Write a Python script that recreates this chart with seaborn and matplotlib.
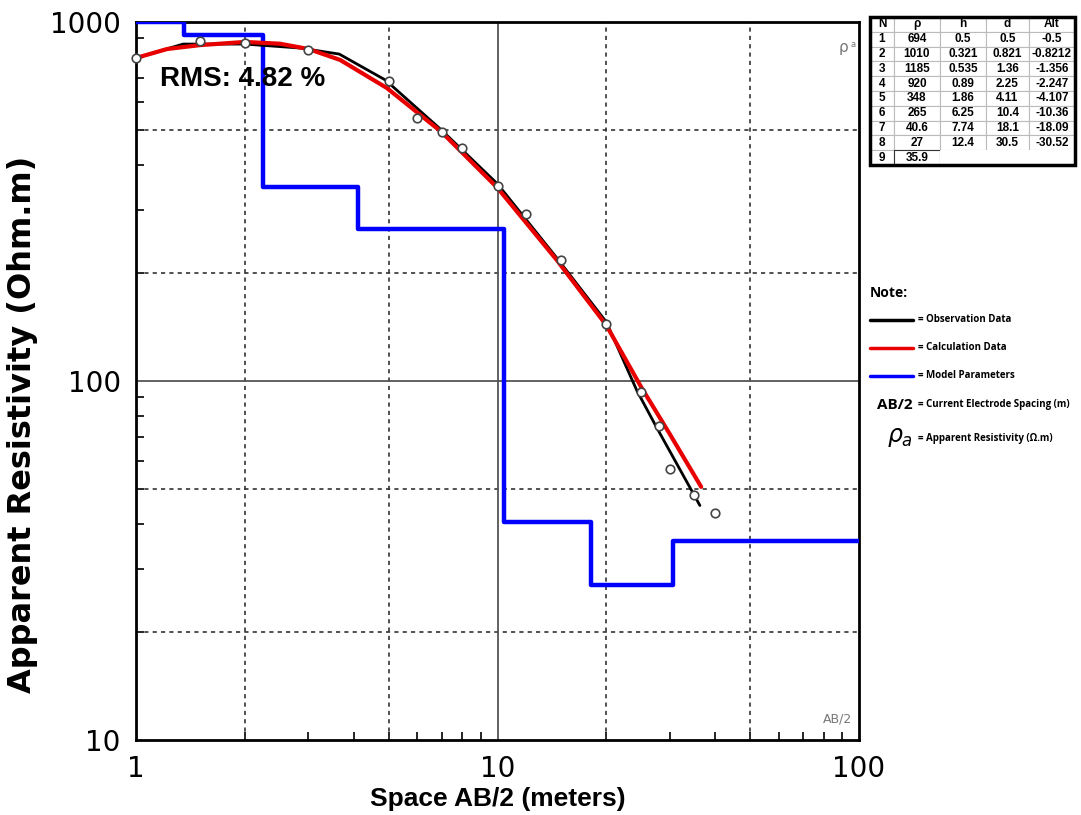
import numpy as np
import pandas as pd
import matplotlib
matplotlib.use("Agg")
import matplotlib.pyplot as plt
import seaborn as sns
from matplotlib.lines import Line2D
from matplotlib.patches import Rectangle
from matplotlib.ticker import FixedLocator, NullFormatter, FixedFormatter

# ---------------- data ----------------
obs_ab2 = [1, 1.5, 2, 3, 5, 6, 7, 8, 10, 12, 15, 20, 25, 28, 30, 35, 40]
obs_rho = [794, 885, 873, 836, 685, 541, 494, 446, 349, 292, 217, 144, 93, 75, 57, 48, 43]

obs_line_ab2 = [1, 1.35, 2, 2.85, 3.65, 4.9, 7, 10, 14.6, 20, 24.3, 27.4, 36.3]
obs_line_rho = [794, 868, 868, 846, 814, 689, 500, 354, 220, 146, 94, 75, 45]

calc_ab2 = [1, 1.22, 1.5, 2, 2.5, 3, 3.67, 4.94, 7, 10, 14.6, 20, 25, 30, 36.6]
calc_rho = [794, 841, 862, 880, 870, 841, 784, 655, 494, 345, 217, 143, 96, 71, 50.7]

layer_n = [1, 2, 3, 4, 5, 6, 7, 8, 9]
layer_rho = [694, 1010, 1185, 920, 348, 265, 40.6, 27, 35.9]
layer_h = [0.5, 0.321, 0.535, 0.89, 1.86, 6.25, 7.74, 12.4]
layer_d = [0.5, 0.821, 1.36, 2.25, 4.11, 10.4, 18.1, 30.5]
layer_alt = [-0.5, -0.8212, -1.356, -2.247, -4.107, -10.36, -18.09, -30.52]

x_ticks = [1, 10, 100]
x_ticklabels = ["1", "10", "100"]
y_ticks = [10, 100, 1000]
y_ticklabels = ["10", "100", "1000"]
rms_text = "RMS: 4.82 %"

# ---------------- figure ----------------
sns.set_theme(style="white")
plt.rcParams["font.family"] = ["DejaVu Sans"]
plt.rcParams["text.color"] = "black"
plt.rcParams["axes.labelcolor"] = "black"
plt.rcParams["xtick.color"] = "black"
plt.rcParams["ytick.color"] = "black"

W, H = 1081, 815
fig = plt.figure(figsize=(W / 100, H / 100), dpi=100)
L, R, T, B = 136, 859, 22, 740
ax = fig.add_axes([L / W, 1 - B / H, (R - L) / W, (B - T) / H])
ax.set_xscale("log")
ax.set_yscale("log")
ax.set_xlim(1, 100)
ax.set_ylim(10, 1000)

# grid lines
for xv in [2, 5, 20, 50]:
    ax.axvline(xv, color="#333333", lw=1.2, ls=(0, (2.5, 2.5)), zorder=1)
for yv in [20, 50, 200, 500]:
    ax.axhline(yv, color="#333333", lw=1.2, ls=(0, (2.5, 2.5)), zorder=1)
ax.axvline(10, color="#555555", lw=1.3, zorder=1)
ax.axhline(100, color="#555555", lw=1.3, zorder=1)

# model parameters (step)
step_x = [1] + layer_d[2:] + [110]
step_y = layer_rho[2:] + [layer_rho[-1]]
model_df = pd.DataFrame({"x": step_x, "y": np.clip(step_y, 10, 1000)})
sns.lineplot(data=model_df, x="x", y="y", ax=ax, color="#0000ff", lw=3.2,
             drawstyle="steps-post", sort=False, zorder=3)

# observation line
obs_line_df = pd.DataFrame({"x": obs_line_ab2, "y": obs_line_rho})
sns.lineplot(data=obs_line_df, x="x", y="y", ax=ax, color="black", lw=2.0,
             sort=False, zorder=4)

# calculation line
calc_df = pd.DataFrame({"x": calc_ab2, "y": calc_rho})
sns.lineplot(data=calc_df, x="x", y="y", ax=ax, color="#e80000", lw=3.0,
             sort=False, zorder=5)

# observation points
obs_df = pd.DataFrame({"x": obs_ab2, "y": obs_rho})
sns.scatterplot(data=obs_df, x="x", y="y", ax=ax, marker="o", s=38,
                facecolor="white", edgecolor="#444444", linewidth=1.2,
                zorder=6, clip_on=False)

# ticks
ax.xaxis.set_major_locator(FixedLocator(x_ticks))
ax.xaxis.set_major_formatter(FixedFormatter(x_ticklabels))
ax.yaxis.set_major_locator(FixedLocator(y_ticks))
ax.yaxis.set_major_formatter(FixedFormatter(y_ticklabels))
minors_x = [m * 10 ** k for k in range(0, 2) for m in range(2, 10)]
minors_y = [m * 10 ** k for k in range(1, 3) for m in range(2, 10)]
ax.xaxis.set_minor_locator(FixedLocator(minors_x))
ax.yaxis.set_minor_locator(FixedLocator(minors_y))
ax.xaxis.set_minor_formatter(NullFormatter())
ax.yaxis.set_minor_formatter(NullFormatter())
ax.tick_params(axis="both", which="minor", direction="in", length=6, width=1.2,
               color="black", bottom=True, left=True)
ax.tick_params(axis="both", which="major", direction="in", length=0,
               labelsize=20, labelcolor="black")
ax.tick_params(axis="x", which="major", pad=11)
ax.tick_params(axis="y", which="major", pad=11)

for sp in ax.spines.values():
    sp.set_color("black")
    sp.set_linewidth(2.0)
    sp.set_visible(True)

ax.set_xlabel("Space AB/2 (meters)", fontsize=19, fontweight="bold",
              family="Liberation Sans", labelpad=3, color="black")
ax.set_ylabel("Apparent Resistivity (Ohm.m)", fontsize=23, fontweight="bold",
              family="DejaVu Sans", color="black")
ax.yaxis.set_label_coords(-0.135, 0.44)

ax.text(0.033, 0.92, rms_text, transform=ax.transAxes, fontsize=20,
        fontweight="bold", family="Liberation Sans", ha="left", va="center",
        color="black", zorder=7)
ax.text(0.985, 0.975, "ρ", transform=ax.transAxes, fontsize=11,
        color="#777777", ha="right", va="top")
ax.text(0.995, 0.975, "a", transform=ax.transAxes, fontsize=6,
        color="#777777", ha="right", va="top")
ax.text(0.99, 0.02, "AB/2", transform=ax.transAxes, fontsize=9,
        color="#777777", ha="right", va="bottom")

# ---------------- table ----------------
tL, tR, tT, tB = 870, 1075, 17, 165
tax = fig.add_axes([tL / W, 1 - tB / H, (tR - tL) / W, (tB - tT) / H])
tax.axis("off")
header = ["N", "ρ", "h", "d", "Alt"]
rows = []
for i in range(len(layer_n)):
    if i < len(layer_h):
        rows.append([str(layer_n[i]), f"{layer_rho[i]:g}", f"{layer_h[i]:g}",
                     f"{layer_d[i]:g}", f"{layer_alt[i]:g}"])
    else:
        rows.append([str(layer_n[i]), f"{layer_rho[i]:g}", "", "", ""])
widths = np.array([24, 46, 46, 43, 46], dtype=float)
widths = widths / widths.sum()
tbl = tax.table(cellText=rows, colLabels=header, colWidths=list(widths),
                cellLoc="center", bbox=[0, 0, 1, 1])
tbl.auto_set_font_size(False)
for (r, c), cell in tbl.get_celld().items():
    cell.set_edgecolor("#bbbbbb")
    cell.set_linewidth(0.8)
    t = cell.get_text()
    t.set_fontsize(8.5)
    t.set_fontweight("bold")
    t.set_family("Liberation Sans")
    t.set_color("black")
    if r == len(rows) and c >= 2:
        cell.set_edgecolor("white")
    if r == len(rows) and c == 1:
        cell.set_edgecolor("#333333")
    if c == 0:
        cell._loc = "left"
        cell.PAD = 0.15
tax.add_patch(Rectangle((0, 0), 1, 1, transform=tax.transAxes, fill=False,
                        edgecolor="black", lw=2.5, clip_on=False))

# ---------------- note legend ----------------
nax = fig.add_axes([0, 0, 1, 1], facecolor="none")
nax.set_xlim(0, W)
nax.set_ylim(H, 0)
nax.axis("off")
nax.text(870, 293, "Note:", fontsize=10, fontweight="bold",
         family="Open Sans", va="center", ha="left")
legend_items = [("black", "= Observation Data", 320),
                ("#e80000", "= Calculation Data", 348),
                ("#0000ff", "= Model Parameters", 376)]
for col, lab, yy in legend_items:
    nax.add_line(Line2D([870, 913], [yy, yy], color=col, lw=2.5))
    nax.text(918, yy, lab, fontsize=7, fontweight="bold", family="Open Sans",
             va="center", ha="left")
nax.text(913, 405, "AB/2", fontsize=11, fontweight="bold", family="Open Sans",
         va="center", ha="right")
nax.text(918, 405, "= Current Electrode Spacing (m)", fontsize=7,
         fontweight="bold", family="Open Sans", va="center", ha="left")
nax.text(913, 437, r"$\rho_a$", fontsize=17, va="center", ha="right")
nax.text(918, 438, "= Apparent Resistivity (Ω.m)", fontsize=7,
         fontweight="bold", family="Open Sans", va="center", ha="left")

fig.savefig("out.png", dpi=100)
